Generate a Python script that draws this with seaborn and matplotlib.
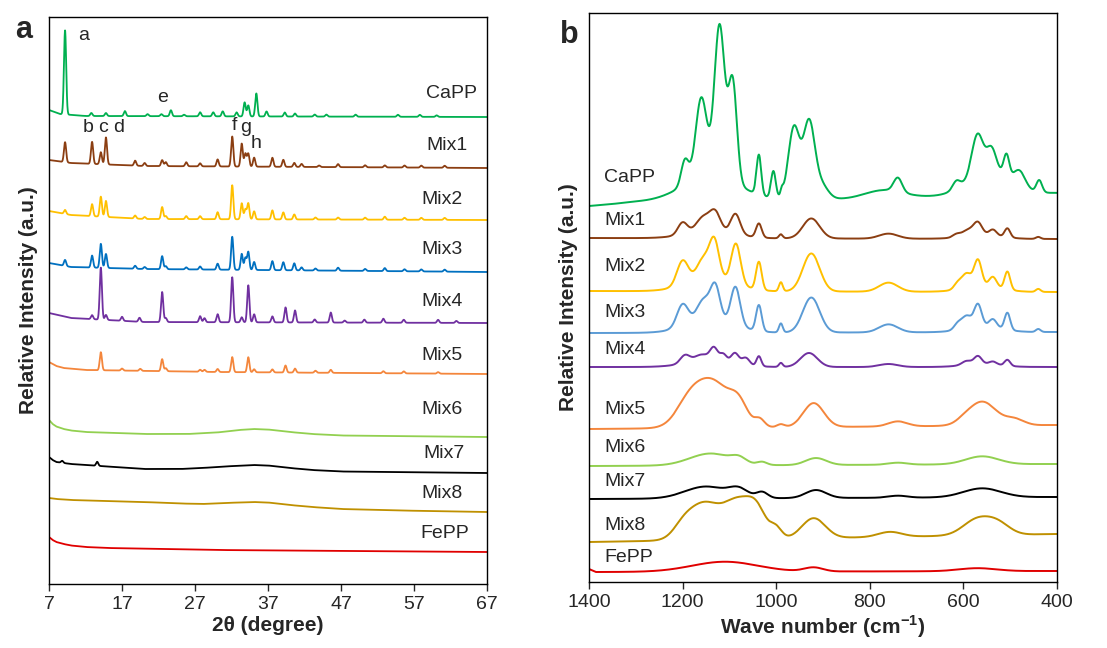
"""
XRD (a) and FTIR (b) stacked spectra of CaPP / FePP mixtures.
"""
import numpy as np
import pandas as pd
import matplotlib
matplotlib.use("Agg")
import matplotlib.pyplot as plt
import seaborn as sns

# ── data ─────────────────────────────────────────────────────────────────────
samples = ["CaPP", "Mix1", "Mix2", "Mix3", "Mix4", "Mix5", "Mix6", "Mix7", "Mix8", "FePP"]

# XRD: background knots (2θ, level) and peaks (2θ, height above background)
xrd_bg = {
    "CaPP": [(7, 474), (8.5, 470), (12, 468), (67, 467)],
    "Mix1": [(7, 424), (10, 421), (20, 418), (67, 416)],
    "Mix2": [(7, 373), (10, 369), (20, 365), (67, 364)],
    "Mix3": [(7, 321), (10, 317), (20, 315), (67, 312)],
    "Mix4": [(7, 271), (10, 266), (20, 262), (67, 261)],
    "Mix5": [(7, 222), (8, 218), (9, 216), (12, 214), (30, 212), (67, 210)],
    "Mix6": [(7, 164), (7.5, 160), (8, 157.5), (9, 155), (10, 153.5), (12, 152),
             (20, 150), (26, 150), (30, 151.5), (33, 154), (35, 155), (37, 154.5),
             (40, 152), (43, 150), (47, 148.5), (67, 147)],
    "Mix7": [(7, 127), (7.5, 124), (8, 122), (9, 121), (10, 120), (14, 118),
             (20, 115), (25, 115), (28, 116), (31, 117.5), (35, 119), (37, 118.5),
             (40, 116), (43, 114), (47, 112.5), (67, 111)],
    "Mix8": [(7, 86), (8, 85), (10, 84), (15, 83), (20, 82), (25, 80.5), (28, 80),
             (31, 81), (35, 82), (37, 81.5), (40, 79), (43, 77), (47, 75),
             (55, 73.5), (67, 72)],
    "FePP": [(7, 47), (7.5, 44), (8, 42), (9, 40), (10, 38.5), (12, 37), (15, 36),
             (30, 34), (67, 32)],
}
xrd_capp = [(9.2, 84), (12.8, 3), (14.8, 3), (17.4, 5), (20.5, 2), (22.4, 2),
            (23.7, 6), (25.5, 1.5), (27.7, 4), (29.5, 4), (30.8, 5), (32.7, 4),
            (33.8, 14), (34.3, 11), (35.4, 23), (36.8, 5), (39.3, 4), (40.7, 3),
            (43.4, 2), (45.0, 2), (49.0, 2), (54.8, 2), (57.8, 2), (60.1, 1.5)]
xrd_mix1 = [(9.2, 20), (12.9, 22), (14.1, 12), (14.8, 27), (18.8, 5), (20.1, 3),
            (22.5, 6), (23.0, 4), (25.8, 4), (27.7, 3), (30.1, 7), (32.1, 30),
            (33.4, 23), (33.9, 13), (34.3, 13), (35.1, 9), (37.6, 9), (39.1, 7),
            (40.6, 4), (41.6, 3), (44.0, 1.5), (46.6, 3), (50.3, 2), (53.0, 2),
            (55.7, 2), (58.0, 2), (61.2, 2)]
xrd_mix2 = [(9.2, 4), (12.9, 12), (14.1, 20), (14.8, 16), (18.8, 3), (20.1, 2),
            (22.5, 12), (23.0, 3), (25.8, 3), (27.7, 3), (30.1, 7), (32.1, 34),
            (33.4, 16), (33.9, 10), (34.3, 16), (35.1, 8), (37.6, 9), (39.1, 7),
            (40.6, 5), (43.5, 2), (46.6, 2), (50.3, 2), (53.0, 3), (55.7, 2),
            (58.0, 2), (61.2, 2)]
xrd_mix3 = [(9.2, 6), (12.9, 12), (14.1, 24), (14.8, 14), (18.8, 3), (20.1, 2),
            (22.5, 13), (23.0, 3), (25.8, 2), (27.7, 3), (30.1, 6), (32.1, 33),
            (33.4, 16), (33.9, 12), (34.3, 18), (35.1, 8), (37.6, 9), (39.1, 8),
            (40.6, 7), (41.6, 3), (43.5, 2), (46.6, 3), (50.3, 2), (53.0, 3),
            (55.7, 2), (58.0, 2), (61.2, 2)]
xrd_mix4 = [(12.9, 4), (14.1, 52), (14.8, 5), (17.0, 4), (19.4, 4), (22.5, 30),
            (23.0, 4), (27.7, 6), (28.3, 4), (30.1, 8), (32.1, 45), (33.4, 5),
            (34.3, 37), (35.1, 8), (37.6, 6), (39.4, 15), (40.7, 12), (43.4, 3),
            (45.6, 10), (47.5, 2), (50.2, 3), (52.8, 4), (55.6, 3), (60.3, 3),
            (62.8, 2)]
xrd_mix5 = [(14.1, 18), (17.0, 2), (19.5, 2), (22.5, 12), (23.0, 3), (27.7, 2),
            (28.3, 2), (30.1, 3), (32.1, 15), (34.3, 15), (35.1, 3), (37.6, 3),
            (39.4, 7), (40.7, 4), (43.5, 2), (45.6, 3), (52.8, 2), (55.6, 2),
            (60.3, 1.5)]
xrd_mix7 = [(8.8, 2), (13.6, 4)]
xrd_peaks = {"CaPP": xrd_capp, "Mix1": xrd_mix1, "Mix2": xrd_mix2,
             "Mix3": xrd_mix3, "Mix4": xrd_mix4, "Mix5": xrd_mix5,
             "Mix6": [], "Mix7": xrd_mix7, "Mix8": [], "FePP": []}
peak_letters = ["a", "b", "c", "d", "e", "f", "g", "h"]

# FTIR: baseline knots (cm-1, level) and bands (cm-1, height, width)
ftir_bg = {
    "CaPP": [(1400, 376), (1300, 380), (840, 383), (400, 389)],
    "Mix1": [(1400, 344), (400, 343)],
    "Mix2": [(1400, 291), (400, 290)],
    "Mix3": [(1400, 249), (400, 250)],
    "Mix4": [(1400, 215), (400, 215)],
    "Mix5": [(1400, 153), (400, 157)],
    "Mix6": [(1400, 116), (400, 118)],
    "Mix7": [(1400, 83), (400, 85)],
    "Mix8": [(1400, 40), (400, 48)],
    "FePP": [(1400, 13), (1385, 10), (400, 11)],
}
ftir_capp = [(1140, 25, 60), (1195, 25, 8), (1160, 80, 12), (1121, 152, 11),
             (1093, 100, 9), (1037, 40, 5), (1006, 27, 5), (988, 6, 3),
             (962, 72, 12), (930, 75, 12), (905, 15, 15), (770, 8, 40),
             (740, 14, 9), (615, 8, 8), (570, 40, 12), (545, 25, 45),
             (540, 22, 10), (508, 22, 6), (480, 15, 12), (438, 12, 6)]
ftir_mix1 = [(1200, 12, 10), (1155, 14, 15), (1130, 17, 11), (1087, 20, 10),
             (1140, 8, 50), (1037, 14, 6), (990, 4, 4), (925, 20, 18),
             (760, 5, 20), (615, 3, 8), (590, 6, 12), (569, 12, 9),
             (537, 6, 8), (506, 9, 6), (440, 2, 5), (560, 4, 40)]
ftir_mix2 = [(1200, 24, 12), (1155, 20, 14), (1132, 35, 10), (1086, 40, 10),
             (1140, 14, 50), (1037, 28, 6), (990, 9, 4), (925, 38, 18),
             (760, 9, 20), (612, 6, 8), (593, 14, 10), (569, 26, 8),
             (537, 10, 8), (506, 18, 6), (440, 3, 5), (560, 6, 40)]
ftir_mix3 = [(1200, 22, 12), (1155, 20, 14), (1130, 32, 10), (1087, 38, 10),
             (1140, 14, 50), (1037, 26, 6), (990, 9, 4), (925, 35, 18),
             (760, 8, 20), (612, 6, 8), (593, 12, 10), (569, 22, 8),
             (537, 8, 8), (506, 17, 6), (440, 3, 5), (560, 6, 40)]
ftir_mix4 = [(1195, 8, 10), (1160, 6, 15), (1133, 12, 8), (1113, 7, 7),
             (1088, 10, 8), (1065, 7, 8), (1140, 7, 50), (1037, 10, 5),
             (990, 4, 4), (930, 14, 18), (760, 3, 20), (593, 4, 10),
             (569, 8, 8), (537, 3, 8), (506, 6, 6), (560, 3, 40)]
ftir_mix5 = [(1140, 48, 42), (1190, 12, 25), (1080, 16, 18), (1035, 7, 10),
             (990, 3, 8), (920, 24, 22), (740, 5, 20), (600, 2, 15),
             (560, 24, 30), (490, 6, 20)]
ftir_mix6 = [(1140, 12, 45), (1080, 5, 15), (1030, 3, 10), (915, 7, 22),
             (740, 2, 20), (560, 8, 35)]
ftir_mix7 = [(1150, 12, 45), (1080, 8, 20), (1030, 6, 12), (915, 8, 22),
             (740, 2, 20), (560, 9, 40)]
ftir_mix8 = [(1155, 36, 35), (1080, 36, 30), (1040, 22, 20), (1000, 10, 12),
             (1200, 8, 20), (920, 20, 25), (757, 5, 25), (570, 16, 30),
             (525, 10, 25)]
ftir_fepp = [(1110, 10, 70), (920, 4, 20), (570, 3, 40)]
ftir_peaks = {"CaPP": ftir_capp, "Mix1": ftir_mix1, "Mix2": ftir_mix2,
              "Mix3": ftir_mix3, "Mix4": ftir_mix4, "Mix5": ftir_mix5,
              "Mix6": ftir_mix6, "Mix7": ftir_mix7, "Mix8": ftir_mix8,
              "FePP": ftir_fepp}

# ── styling ──────────────────────────────────────────────────────────────────
xrd_colors = ["#00B050", "#8B3E12", "#FFC000", "#0070C0", "#7030A0",
              "#F4863C", "#92D050", "#000000", "#BF9000", "#E00000"]
ftir_colors = ["#00B050", "#8B3E12", "#FFC000", "#5B9BD5", "#7030A0",
               "#F4863C", "#92D050", "#000000", "#BF9000", "#E00000"]

sns.set_style("ticks")
plt.rcParams["font.family"] = ["Liberation Sans", "DejaVu Sans"]
plt.rcParams["mathtext.fontset"] = "custom"
plt.rcParams["mathtext.rm"] = "Liberation Sans"
plt.rcParams["mathtext.bf"] = "Liberation Sans:bold"


def build_curve(x, knots, peaks, width=None):
    kx, ky = zip(*sorted(knots))
    y = np.interp(x, kx, ky)
    for p in peaks:
        c, h = p[0], p[1]
        s = p[2] if width is None else width
        y = y + h * np.exp(-0.5 * ((x - c) / s) ** 2)
    return y


fig = plt.figure(figsize=(11.07, 6.48), dpi=100)
ax_a = fig.add_axes([49 / 1107, 1 - 584 / 648, 438 / 1107, 567 / 648])
ax_b = fig.add_axes([589 / 1107, 1 - 582 / 648, 468 / 1107, 569 / 648])

# ── (a) XRD ──────────────────────────────────────────────────────────────────
two_theta = np.arange(7, 67.001, 0.02)
for name, color in zip(samples, xrd_colors):
    y = build_curve(two_theta, xrd_bg[name], xrd_peaks[name], width=0.15)
    sns.lineplot(x=two_theta, y=y, ax=ax_a, color=color, lw=1.3,
                 estimator=None, sort=False)

xrd_label_pos = [(65.6, 490), (64.3, 438), (63.7, 384), (63.7, 334), (63.7, 282),
                 (63.7, 229), (63.7, 174), (63.9, 131), (63.7, 90), (64.6, 50)]
for name, (lx, ly) in zip(samples, xrd_label_pos):
    ax_a.text(lx, ly, name, ha="right", va="center", fontsize=14)

letter_pos = [(11.7, 549), (12.3, 457), (14.4, 457), (16.5, 457), (22.5, 487),
              (32.4, 459), (34.0, 457), (35.4, 441)]
for lt, (lx, ly) in zip(peak_letters, letter_pos):
    ax_a.text(lx, ly, lt, ha="center", va="center", fontsize=14)

ax_a.set_xlim(7, 67)
ax_a.set_ylim(0, 567)
ax_a.set_xticks(np.arange(7, 68, 10))
ax_a.set_yticks([])
ax_a.set_xlabel("2θ (degree)", fontsize=15, fontweight="bold", labelpad=2)
ax_a.set_ylabel("Relative Intensity (a.u.)", fontsize=15, fontweight="bold",
                labelpad=8)
fig.text(15 / 1107, 1 - 30 / 648, "a", fontsize=22, fontweight="bold",
         ha="left", va="center")

# ── (b) FTIR ─────────────────────────────────────────────────────────────────
wavenumber = np.arange(400, 1400.1, 1.0)
for name, color in zip(samples, ftir_colors):
    y = build_curve(wavenumber, ftir_bg[name], ftir_peaks[name])
    sns.lineplot(x=wavenumber, y=y, ax=ax_b, color=color, lw=1.4,
                 estimator=None, sort=False)

ftir_label_pos = [405, 362, 316, 270, 232, 172, 134, 100, 57, 25]
for name, ly in zip(samples, ftir_label_pos):
    ax_b.text(1368, ly, name, ha="left", va="center", fontsize=14)

ax_b.set_xlim(1400, 400)
ax_b.set_ylim(0, 569)
ax_b.set_xticks(np.arange(1400, 399, -200))
ax_b.set_yticks([])
ax_b.set_xlabel(r"Wave number (cm$^{\mathbf{-1}}$)", fontsize=15,
                fontweight="bold", labelpad=2)
ax_b.set_ylabel("Relative Intensity (a.u.)", fontsize=15, fontweight="bold",
                labelpad=8)
fig.text(560 / 1107, 1 - 35 / 648, "b", fontsize=22, fontweight="bold",
         ha="left", va="center")

for ax in (ax_a, ax_b):
    ax.tick_params(axis="x", direction="out", length=5, width=1, labelsize=14)
    for sp in ax.spines.values():
        sp.set_visible(True)
        sp.set_color("black")
        sp.set_linewidth(1.0)

fig.savefig("out.png", dpi=100)
